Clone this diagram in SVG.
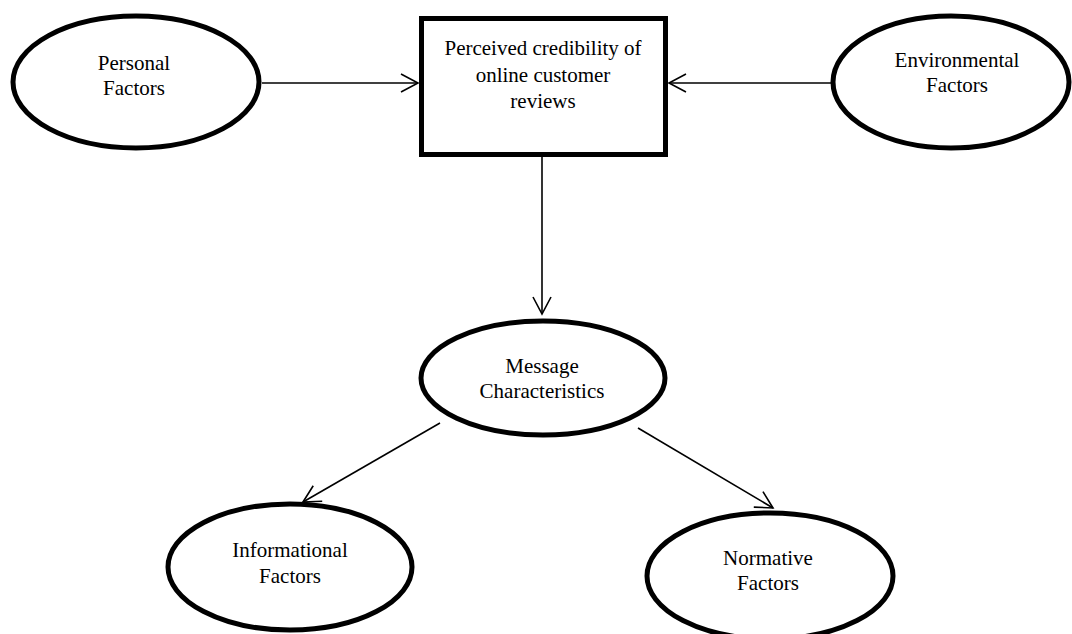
<svg xmlns="http://www.w3.org/2000/svg" width="1072" height="634" viewBox="0 0 1072 634">
<style>
.node{fill:#fff;stroke:#000;stroke-width:5}
.lbl{font-family:"Liberation Serif","Times New Roman",serif;font-size:21px;fill:#000;text-anchor:middle}
.conn{stroke:#000;stroke-width:1.6;fill:none}
</style>
<defs>
<marker id="arr" markerUnits="userSpaceOnUse" markerWidth="24" markerHeight="24" viewBox="-20 -12 22 24" refX="0" refY="0" orient="auto">
<path d="M-17,-9 L0,0 L-17,9" fill="none" stroke="#000" stroke-width="1.6"/>
</marker>
</defs>
<rect width="1072" height="634" fill="#fff"/>
<g id="connectors">
<line class="conn" x1="262" y1="83" x2="418" y2="83" marker-end="url(#arr)"/>
<line class="conn" x1="831" y1="83" x2="669" y2="83" marker-end="url(#arr)"/>
<line class="conn" x1="542" y1="157" x2="542" y2="314" marker-end="url(#arr)"/>
<line class="conn" x1="440" y1="423" x2="303" y2="502" marker-end="url(#arr)"/>
<line class="conn" x1="638" y1="428" x2="773" y2="508" marker-end="url(#arr)"/>
</g>
<g id="personal">
<ellipse class="node" cx="136" cy="82" rx="123" ry="66"/>
<text class="lbl" x="134" y="70">Personal</text>
<text class="lbl" x="134" y="95">Factors</text>
</g>
<g id="credibility">
<rect class="node" x="421.5" y="18.5" width="244" height="136"/>
<text class="lbl" x="543" y="55">Perceived credibility of</text>
<text class="lbl" x="543" y="82">online customer</text>
<text class="lbl" x="543" y="108">reviews</text>
</g>
<g id="environmental">
<ellipse class="node" cx="951" cy="82" rx="118" ry="66"/>
<text class="lbl" x="957" y="67">Environmental</text>
<text class="lbl" x="957" y="92">Factors</text>
</g>
<g id="message">
<ellipse class="node" cx="543" cy="378" rx="122" ry="57"/>
<text class="lbl" x="542" y="373">Message</text>
<text class="lbl" x="542" y="398">Characteristics</text>
</g>
<g id="informational">
<ellipse class="node" cx="290" cy="567" rx="122" ry="63"/>
<text class="lbl" x="290" y="557">Informational</text>
<text class="lbl" x="290" y="583">Factors</text>
</g>
<g id="normative">
<ellipse class="node" cx="770" cy="576" rx="123" ry="63"/>
<text class="lbl" x="768" y="565">Normative</text>
<text class="lbl" x="768" y="590">Factors</text>
</g>
</svg>
